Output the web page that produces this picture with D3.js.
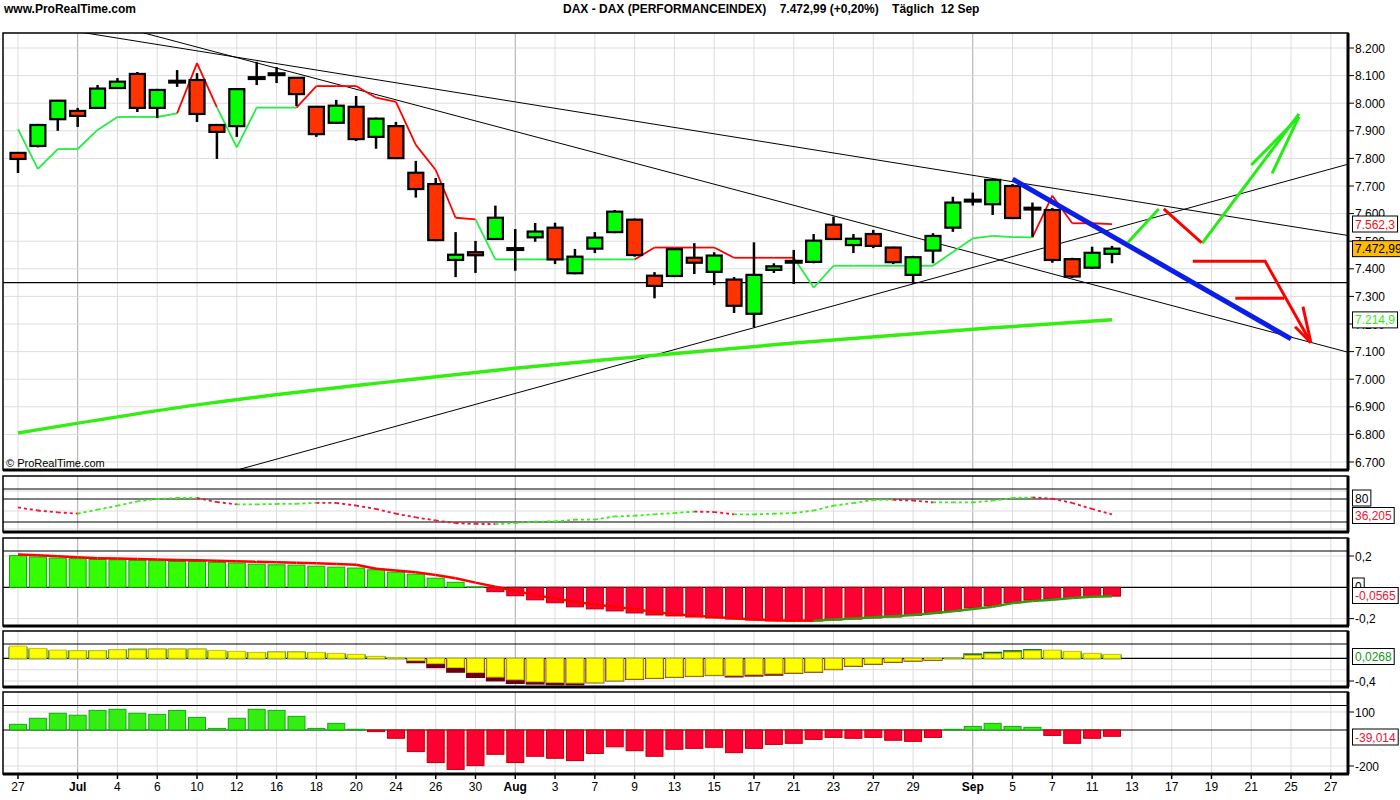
<!DOCTYPE html>
<html><head><meta charset="utf-8">
<script src="https://cdn.jsdelivr.net/npm/d3@7"></script>
<style>body{margin:0;background:#fff}text{font-family:"Liberation Sans",Arial,sans-serif}</style>
</head><body><div id="chart"></div>
<script>
// OHLC, Jun 27 .. Sep 12 (56 sessions)
const opens  = [7820,7845,7942,7972,7983,8055,8106,7983,8080,8084,7921,7917,8093,8108,8092,7987,7929,7987,7878,7917,7748,7707,7432,7460,7508,7473,7514,7549,7384,7473,7533,7578,7375,7374,7440,7389,7361,7237,7396,7427,7425,7560,7486,7526,7477,7378,7466,7549,7649,7634,7700,7620,7613,7435,7404,7454]
const highs  = [7822,7925,8012,7983,8066,8091,8113,8052,8120,8109,7925,8051,8150,8131,8095,7990,8012,8026,7948,7932,7791,7729,7533,7501,7629,7544,7566,7567,7472,7533,7613,7582,7388,7475,7493,7460,7370,7496,7420,7468,7526,7589,7526,7541,7480,7447,7529,7661,7676,7725,7707,7640,7620,7440,7480,7483]
const lows   = [7747,7840,7900,7914,7980,8053,7968,7946,8059,7932,7798,7878,8066,8073,7990,7878,7925,7863,7835,7798,7658,7500,7370,7385,7505,7393,7498,7417,7380,7457,7529,7444,7293,7370,7381,7341,7240,7188,7385,7345,7420,7505,7457,7475,7417,7345,7420,7534,7629,7595,7580,7516,7422,7367,7400,7420]
const closes = [7798,7921,8009,7954,8053,8078,7983,8048,8076,7961,7896,8051,8089,8102,8033,7888,7991,7870,7944,7801,7689,7504,7451,7451,7585,7470,7535,7434,7444,7513,7607,7450,7338,7471,7422,7448,7266,7378,7409,7424,7502,7508,7509,7483,7424,7442,7519,7640,7645,7722,7584,7616,7432,7372,7458,7473]
const dojis = [8, 12, 13, 25, 39, 48, 51]

// trailing stop line, state 1 = above price (red)
const stopVals  = [7906,7762,7834,7834,7903,7950,7950,7950,7963,8145,7985,7840,7984,7984,7984,8062,8062,8062,8020,8005,7849,7758,7585,7579,7434,7434,7434,7434,7434,7434,7434,7434,7477,7477,7477,7477,7440,7440,7440,7440,7332,7411,7411,7411,7411,7411,7411,7461,7510,7519,7515,7514,7665,7565,7565,7562]
const stopState = [0,0,0,0,0,0,0,0,0,1,1,0,0,0,0,1,1,1,1,1,1,1,1,1,0,0,0,0,0,0,0,0,1,1,1,1,1,1,1,1,0,0,0,0,0,0,0,0,0,0,0,0,1,1,1,1]

// long moving average
const maIdx  = [0,9,19,25,31,39,49,55]
const maVals = [6805,6907,6993,7040,7080,7131,7186,7215]

// drawn lines [idx, price]
const trendLines = [[[28.54,7830],[56.38,7298]], [[3.52,8253],[25.23,8002]], [[32.94,7106],[56.38,7571]]]
const supportLevel = 7350
const blueLine = [[50,7725],[64,7146]]
const greenDrawn = [[[55.8,7495],[57.35,7617]], [[59.53,7492],[64.4,7961]], [[62.0,7776],[64.4,7951]], [[63.05,7746],[64.4,7951]]]
const redDrawn = [[[57.6,7617],[59.5,7495]], [[59.06,7427],[62.7,7427],[65.0,7132]], [[61.2,7293],[63.66,7293]], [[64.6,7263],[65.0,7132]], [[64.2,7190],[65.0,7132]]]

// indicators
const stoch = [58,50,45,42,52,62.5,74,80,82.6,82.6,72,66,66,67,67.6,70,69.6,63,54,41.6,32,24,17,15,14.6,17,21,21.5,26,26,34.6,36.4,40,43.4,47,46,40,40,41.6,43.4,50,62.5,69.6,77.4,78,76,71,71,71,75.6,82.6,84,80.8,69.6,54,40]
const macdHist = [0.202,0.194,0.187,0.183,0.178,0.176,0.172,0.170,0.165,0.165,0.159,0.155,0.148,0.144,0.142,0.135,0.129,0.123,0.112,0.097,0.084,0.058,0.032,0.003,-0.028,-0.054,-0.080,-0.099,-0.125,-0.138,-0.151,-0.164,-0.177,-0.183,-0.190,-0.196,-0.203,-0.209,-0.215,-0.215,-0.215,-0.209,-0.203,-0.196,-0.190,-0.179,-0.166,-0.151,-0.132,-0.118,-0.099,-0.082,-0.073,-0.067,-0.058,-0.0565]
const macdLine = [0.210,0.205,0.198,0.192,0.186,0.184,0.181,0.178,0.175,0.173,0.170,0.167,0.163,0.160,0.157,0.153,0.149,0.144,0.118,0.108,0.096,0.078,0.058,0.030,0.004,-0.022,-0.050,-0.071,-0.093,-0.110,-0.125,-0.140,-0.157,-0.172,-0.181,-0.190,-0.198,-0.205,-0.211,-0.213,-0.213,-0.206,-0.200,-0.192,-0.185,-0.177,-0.166,-0.153,-0.138,-0.124,-0.101,-0.088,-0.080,-0.069,-0.060,-0.0565]
const oscA = [0.214,0.174,0.144,0.133,0.133,0.150,0.150,0.162,0.162,0.162,0.139,0.122,0.104,0.110,0.110,0.104,0.087,0.070,0.035,0.010,-0.041,-0.093,-0.163,-0.250,-0.330,-0.377,-0.412,-0.424,-0.435,-0.424,-0.390,-0.365,-0.348,-0.330,-0.313,-0.296,-0.307,-0.290,-0.273,-0.256,-0.238,-0.191,-0.134,-0.099,-0.064,-0.041,-0.030,0.002,0.052,0.080,0.110,0.133,0.144,0.122,0.087,0.070]
const oscB = [0.200,0.170,0.140,0.140,0.140,0.155,0.170,0.170,0.170,0.170,0.139,0.122,0.110,0.120,0.120,0.104,0.087,0.070,0.040,0.012,-0.070,-0.157,-0.238,-0.330,-0.390,-0.435,-0.446,-0.458,-0.458,-0.424,-0.390,-0.365,-0.348,-0.330,-0.313,-0.296,-0.320,-0.305,-0.290,-0.256,-0.238,-0.191,-0.134,-0.099,-0.064,-0.041,-0.030,0.010,0.087,0.115,0.144,0.162,0.144,0.122,0.087,0.070]
const momentum = [31.5,65,93,82,109,115,93,87,109,70,9,65,115,109,76,9,37,4,-9,-46,-120,-181,-219,-198,-135,-181,-146,-157,-170,-130,-93,-115,-146,-107,-102,-96,-126,-102,-80,-74,-52,-41,-46,-41,-57,-63,-41,4,20,37,20,15,-30,-74,-46,-35]

const priceTicks = [8200,8100,8000,7900,7800,7700,7600,7500,7400,7300,7200,7100,7000,6900,6800,6700]
const dateTicks = [[0,"27"],[3,"Jul"],[5,"4"],[7,"6"],[9,"10"],[11,"12"],[13,"16"],[15,"18"],[17,"20"],[19,"24"],[21,"26"],[23,"30"],[25,"Aug"],[27,"3"],[29,"7"],[31,"9"],[33,"13"],[35,"15"],[37,"17"],[39,"21"],[41,"23"],[43,"27"],[45,"29"],[48,"Sep"],[50,"5"],[52,"7"],[54,"11"],[56,"13"],[58,"17"],[60,"19"],[62,"21"],[64,"25"],[66,"27"]]
const monthIdx = [3,25,48]

const W = 1400, H = 800, L = 3, R = 1348
const svg = d3.select("#chart").append("svg").attr("width", W).attr("height", H)
const x = d3.scaleLinear().domain([0,55]).range([18,1112])
const y = d3.scaleLinear().domain([6700,8200]).range([462,48])

const panels = [
  {top:33, bot:470},
  {top:476, bot:532},
  {top:538, bot:626},
  {top:631, bot:687},
  {top:692, bot:774}
]
const yS = d3.scaleLinear().domain([20,80]).range([522,499])
const yM = d3.scaleLinear().domain([0,0.2]).range([587.3,556])
const yO = d3.scaleLinear().domain([0,-0.4]).range([658.3,681])
const yP = d3.scaleLinear().domain([0,100]).range([730,712])

// grids
panels.forEach((p, k) => {
  const g = svg.append("g")
  const clipId = "clip" + k
  svg.append("clipPath").attr("id", clipId).append("rect").attr("x", L).attr("y", p.top).attr("width", R-L).attr("height", p.bot-p.top)
  p.clip = "url(#" + clipId + ")"
  g.selectAll("line").data(dateTicks).join("line")
    .attr("x1", d => x(d[0])).attr("x2", d => x(d[0])).attr("y1", p.top).attr("y2", p.bot)
    .attr("stroke", d => monthIdx.includes(d[0]) ? "#aaa" : "#ddd")
})
svg.append("g").selectAll("line").data(priceTicks).join("line")
  .attr("x1", L).attr("x2", R).attr("y1", d => y(d)).attr("y2", d => y(d)).attr("stroke", "#ddd")
const hgrid = (ys) => svg.append("g").selectAll("line").data(ys).join("line")
  .attr("x1", L).attr("x2", R).attr("y1", d => d).attr("y2", d => d).attr("stroke", "#ddd")
hgrid([491, 511, 529])
hgrid([yM(0.2), yM(-0.2)])
hgrid([yO(-0.2), yO(-0.4)])
hgrid([yP(100), yP(-100), yP(-200)])

// black reference lines
const blk = (yy, w) => svg.append("line").attr("x1", L).attr("x2", R).attr("y1", yy).attr("y2", yy).attr("stroke", "#000").attr("stroke-width", w || 1.2)
blk(y(supportLevel))
blk(489); blk(yS(80)); blk(yS(20))
blk(551); blk(yM(0))
blk(644); blk(yO(0))
blk(705.5); blk(yP(0))

// main panel
const main = svg.append("g").attr("clip-path", panels[0].clip)
const ext = (a, b) => {
  const x1 = x(a[0]), y1 = y(a[1]), x2 = x(b[0]), y2 = y(b[1]), s = (y2-y1)/(x2-x1)
  return [[0, y1 - s*x1], [1400, y1 + s*(1400-x1)]]
}
trendLines.forEach(t => {
  const e = ext(t[0], t[1])
  main.append("line").attr("x1", e[0][0]).attr("y1", e[0][1]).attr("x2", e[1][0]).attr("y2", e[1][1]).attr("stroke", "#000").attr("stroke-width", 1)
})
const maLine = d3.line().x((d, i) => x(maIdx[i])).y(d => y(d)).curve(d3.curveMonotoneX)
main.append("path").attr("d", maLine(maVals)).attr("fill", "none").attr("stroke", "#33ee11").attr("stroke-width", 3.5)

for (let i = 1; i < stopVals.length; i++) {
  main.append("line").attr("x1", x(i-1)).attr("y1", y(stopVals[i-1])).attr("x2", x(i)).attr("y2", y(stopVals[i]))
    .attr("stroke", stopState[i] ? "#ff0000" : "#22ee44").attr("stroke-width", 1.8)
}

const cw = 15
const candles = main.append("g").selectAll("g").data(opens).join("g")
candles.append("line").attr("x1", (d,i) => x(i)).attr("x2", (d,i) => x(i))
  .attr("y1", (d,i) => y(highs[i])).attr("y2", (d,i) => y(lows[i])).attr("stroke", "#000").attr("stroke-width", 2.5)
candles.append("rect")
  .attr("x", (d,i) => x(i) - cw/2 - (dojis.includes(i) ? 1.5 : 0))
  .attr("width", (d,i) => cw + (dojis.includes(i) ? 3 : 0))
  .attr("y", (d,i) => dojis.includes(i) ? y((opens[i]+closes[i])/2) - 2 : y(Math.max(opens[i], closes[i])))
  .attr("height", (d,i) => dojis.includes(i) ? 4 : Math.max(3, Math.abs(y(opens[i]) - y(closes[i]))))
  .attr("fill", (d,i) => dojis.includes(i) ? "#000" : closes[i] >= opens[i] ? "#00ff00" : "#ff3300")
  .attr("stroke", "#000").attr("stroke-width", (d,i) => dojis.includes(i) ? 0 : 2.2)

const pl = d3.line().x(d => x(d[0])).y(d => y(d[1]))
main.append("path").attr("d", pl(blueLine)).attr("stroke", "#0a1ee8").attr("stroke-width", 5).attr("fill", "none")
greenDrawn.forEach(s => main.append("path").attr("d", pl(s)).attr("stroke", "#22ee11").attr("stroke-width", 3).attr("fill", "none"))
redDrawn.forEach(s => main.append("path").attr("d", pl(s)).attr("stroke", "#ff0000").attr("stroke-width", 3).attr("fill", "none"))

svg.append("text").attr("x", 6).attr("y", 467).attr("font-size", 11).text("© ProRealTime.com")

// stochastic
const st = svg.append("g").attr("clip-path", panels[1].clip)
for (let i = 1; i < stoch.length; i++) {
  st.append("line").attr("x1", x(i-1)).attr("y1", yS(stoch[i-1])).attr("x2", x(i)).attr("y2", yS(stoch[i]))
    .attr("stroke", stoch[i] < stoch[i-1] ? "#ee1133" : "#33ee11").attr("stroke-width", 1.8).attr("stroke-dasharray", "3,3")
}

// MACD histogram
const bw = 17
const mh = svg.append("g").attr("clip-path", panels[2].clip)
mh.selectAll("rect").data(macdHist).join("rect")
  .attr("x", (d,i) => x(i) - bw/2).attr("width", bw)
  .attr("y", d => Math.min(yM(d), yM(0))).attr("height", d => Math.abs(yM(d) - yM(0)))
  .attr("fill", d => d >= 0 ? "#33ff00" : "#ff0033").attr("stroke", d => d >= 0 ? "#11aa11" : "#bb0000")
for (let i = 1; i < macdLine.length; i++) {
  mh.append("line").attr("x1", x(i-1)).attr("y1", yM(macdLine[i-1])).attr("x2", x(i)).attr("y2", yM(macdLine[i]))
    .attr("stroke", i > 40 ? "#339911" : "#ff0000").attr("stroke-width", 2.5)
}

// oscillator
const os = svg.append("g").attr("clip-path", panels[3].clip)
os.selectAll("rect.b").data(oscB).join("rect").attr("class", "b")
  .attr("x", (d,i) => x(i) - bw/2 - 1).attr("width", bw + 2)
  .attr("y", d => Math.min(yO(d), yO(0))).attr("height", d => Math.abs(yO(d) - yO(0)) + 1)
  .attr("fill", d => d >= 0 ? "#116611" : "#6a0010")
os.selectAll("rect.a").data(oscA).join("rect").attr("class", "a")
  .attr("x", (d,i) => x(i) - bw/2).attr("width", bw)
  .attr("y", d => Math.min(yO(d), yO(0))).attr("height", d => Math.abs(yO(d) - yO(0)))
  .attr("fill", "#ffff00").attr("stroke", "#c8c800").attr("stroke-width", 1)

// momentum
const mo = svg.append("g").attr("clip-path", panels[4].clip)
mo.selectAll("rect").data(momentum).join("rect")
  .attr("x", (d,i) => x(i) - bw/2).attr("width", bw)
  .attr("y", d => Math.min(yP(d), yP(0))).attr("height", d => Math.abs(yP(d) - yP(0)))
  .attr("fill", d => d >= 0 ? "#33ee11" : "#ff0033").attr("stroke", d => d >= 0 ? "#11aa11" : "#bb0000")

// frames
panels.forEach(p => {
  svg.append("rect").attr("x", L).attr("y", p.top).attr("width", R-L).attr("height", p.bot-p.top)
    .attr("fill", "none").attr("stroke", "#000").attr("stroke-width", 1.5)
  svg.append("line").attr("x1", L).attr("x2", R+1).attr("y1", p.bot).attr("y2", p.bot).attr("stroke", "#000").attr("stroke-width", 3)
  svg.append("line").attr("x1", R).attr("x2", R).attr("y1", p.top).attr("y2", p.bot).attr("stroke", "#000").attr("stroke-width", 3)
})

// right axes
const fmt = d3.format(",")
const lbl = (yy, t, opts) => {
  const g = svg.append("g")
  g.append("line").attr("x1", R).attr("x2", R+6).attr("y1", yy).attr("y2", yy).attr("stroke", "#000")
  g.append("text").attr("x", 1355).attr("y", yy + 4.5).attr("font-size", 12).text(t)
}
priceTicks.forEach(p => lbl(y(p), fmt(p).replace(",", ".") + ".000".slice(0, 0)))
lbl(yM(0.2), "0,2"); lbl(yM(-0.2), "-0,2")
lbl(yO(-0.4), "-0,4")
lbl(yP(100), "100"); lbl(yP(-200), "-200")
const box = (yy, t, col, bg) => {
  const g = svg.append("g")
  const tx = g.append("text").attr("x", 1355).attr("y", yy + 4.5).attr("font-size", 12).attr("fill", col).text(t)
  const w = tx.node().getComputedTextLength()
  g.insert("rect", "text").attr("x", 1352.5).attr("y", yy - 8).attr("width", w + 5).attr("height", 16)
    .attr("fill", bg || "#fff").attr("stroke", "#000")
}
box(498, "80", "#000")
box(515.5, "36,205", "#ee1133")
box(586, "0", "#000")
box(595.5, "-0,0565", "#ee1133")
box(656.5, "0,0268", "#119911")
box(737, "-39,014", "#ee1133")
box(y(7562.3), "7.562,3", "#ee1111")
box(y(7472.99), "7.472,99", "#000", "#ffbb00")
box(y(7214.9), "7.214,9", "#33ee11")

// date axis
const xa = svg.append("g")
dateTicks.forEach(d => {
  xa.append("line").attr("x1", x(d[0])).attr("x2", x(d[0])).attr("y1", 774).attr("y2", 779).attr("stroke", "#000").attr("stroke-width", 1.5)
  xa.append("text").attr("x", x(d[0])).attr("y", 791).attr("text-anchor", "middle").attr("font-size", 12)
    .attr("font-weight", monthIdx.includes(d[0]) ? "bold" : "normal").text(d[1])
})

// header
svg.append("text").attr("x", 4).attr("y", 13).attr("font-size", 12).attr("font-weight", "bold").text("www.ProRealTime.com")
svg.append("text").attr("x", 563).attr("y", 13).attr("font-size", 12).attr("font-weight", "bold")
  .text("DAX - DAX (PERFORMANCEINDEX)    7.472,99 (+0,20%)    Täglich  12 Sep").attr("xml:space", "preserve").style("white-space", "pre")
</script></body></html>
